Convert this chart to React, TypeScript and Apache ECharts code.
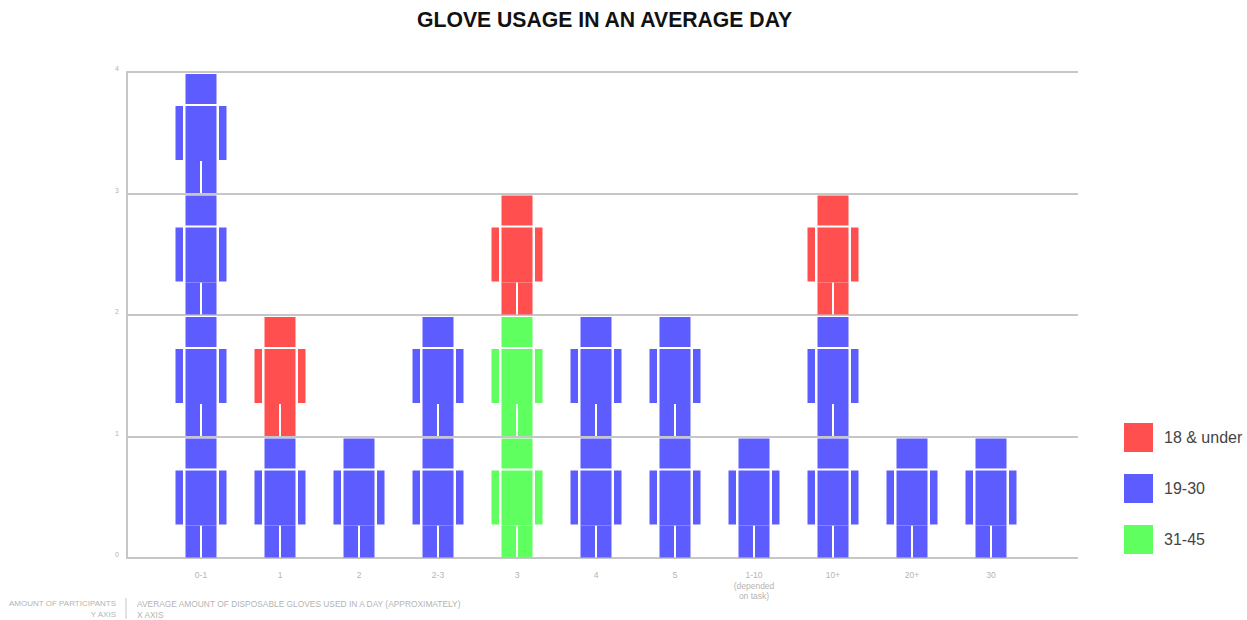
import React, { useEffect, useRef } from "react";
import * as echarts from "echarts";

const title = "GLOVE USAGE IN AN AVERAGE DAY";
const categories = ["0-1", "1", "2", "2-3", "3", "4", "5", "1-10\n(depended\non task)", "10+", "20+", "30"];
const age19to30 = [4, 1, 1, 2, 0, 2, 2, 1, 2, 1, 1];
const age31to45 = [0, 0, 0, 0, 2, 0, 0, 0, 0, 0, 0];
const age18under = [0, 1, 0, 0, 1, 0, 0, 0, 1, 0, 0];
const yTicks = [0, 1, 2, 3, 4];

const BLUE = "#5c5cff";
const GREEN = "#60ff60";
const RED = "#ff4f4f";

// One figure, as rectangles relative to its cell: [x from centre, y from cell top, w, h], in a 121.5px cell.
const FIGURE_PARTS = [
  [-15.5, 2, 31, 30],
  [-15.5, 34, 31, 55],
  [-15.5, 89, 14.5, 32],
  [1, 89, 14.5, 32],
  [-25.5, 34, 7.5, 54],
  [18, 34, 7.5, 54],
];

// Builds [category index, count, stacked base] rows for one age group.
function rows(values: number[], below: number[][]) {
  return values.map((v, i) => [i, v, below.reduce((sum, s) => sum + s[i], 0)]);
}

function renderFigures(_params: any, api: any) {
  const idx = api.value(0);
  const count = api.value(1);
  const base = api.value(2);
  const children: any[] = [];
  const fill = api.visual("color");
  for (let n = 0; n < count; n++) {
    const [cx, top] = api.coord([idx, base + n + 1]);
    const scale = api.size([0, 1])[1] / 121.5;
    for (const [dx, dy, w, h] of FIGURE_PARTS) {
      children.push({
        type: "rect",
        shape: { x: cx + dx * scale, y: top + dy * scale, width: w * scale, height: h * scale },
        style: { fill },
      });
    }
  }
  return { type: "group", children };
}

function figureSeries(name: string, color: string, data: number[][]) {
  return {
    name,
    type: "custom",
    xAxisIndex: 1,
    yAxisIndex: 1,
    clip: false,
    itemStyle: { color },
    encode: { x: 0, y: 2 },
    renderItem: renderFigures,
    data,
  };
}

export default function App() {
  const ref = useRef<HTMLDivElement>(null);

  useEffect(() => {
    document.body.style.margin = "0";
    const chart = echarts.init(ref.current!, null, { renderer: "svg" });
    const font = "Liberation Sans, Arial, sans-serif";
    const tinyColor = "#b4b4b4";
    chart.setOption({
      animation: false,
      backgroundColor: "#ffffff",
      textStyle: { fontFamily: font },
      title: {
        text: title,
        left: 417,
        top: 9,
        padding: 0,
        textStyle: { fontFamily: font, fontSize: 21.2, fontWeight: "bold", color: "#111111" },
      },
      legend: {
        orient: "vertical",
        left: 1124,
        top: 423,
        padding: 0,
        itemWidth: 29,
        itemHeight: 29,
        itemGap: 22,
        icon: "rect",
        data: ["18 & under", "19-30", "31-45"],
        selectedMode: false,
        textStyle: { fontFamily: font, fontSize: 16, color: "#444444", padding: [0, 0, 0, 6] },
      },
      grid: [
        { left: 127, top: 72, width: 951, height: 486 },
        { left: 161.5, top: 72, width: 869, height: 486 },
      ],
      xAxis: [
        { type: "value", gridIndex: 0, min: 0, max: 1, show: false },
        {
          type: "category",
          gridIndex: 1,
          data: categories,
          axisLine: { show: false },
          axisTick: { show: false },
          axisLabel: { fontSize: 8.5, lineHeight: 10.5, color: tinyColor, margin: 12, interval: 0 },
        },
      ],
      yAxis: [
        {
          type: "value",
          gridIndex: 0,
          min: yTicks[0],
          max: yTicks[yTicks.length - 1],
          interval: 1,
          axisLine: { show: true, lineStyle: { color: "#c6c6c6", width: 2 } },
          axisTick: { show: false },
          axisLabel: { fontSize: 7, color: tinyColor, margin: 8, verticalAlign: "bottom" },
          splitLine: { show: true, lineStyle: { color: "#c6c6c6", width: 2 } },
        },
        { type: "value", gridIndex: 1, min: yTicks[0], max: yTicks[yTicks.length - 1], interval: 1, show: false },
      ],
      graphic: [
        {
          type: "text",
          x: 116,
          y: 598,
          style: {
            text: "AMOUNT OF PARTICIPANTS\nY AXIS",
            align: "right",
            fontFamily: font,
            fontSize: 8,
            lineHeight: 11,
            fill: tinyColor,
          },
        },
        {
          type: "line",
          shape: { x1: 126, y1: 598, x2: 126, y2: 619 },
          style: { stroke: "#c6c6c6", lineWidth: 1 },
        },
        {
          type: "text",
          x: 137,
          y: 598,
          style: {
            text: "AVERAGE AMOUNT OF DISPOSABLE GLOVES USED IN A DAY (APPROXIMATELY)\nX AXIS",
            align: "left",
            fontFamily: font,
            fontSize: 8.4,
            lineHeight: 11,
            fill: tinyColor,
          },
        },
      ],
      series: [
        figureSeries("19-30", BLUE, rows(age19to30, [])),
        figureSeries("31-45", GREEN, rows(age31to45, [age19to30])),
        figureSeries("18 & under", RED, rows(age18under, [age19to30, age31to45])),
      ],
    });
    return () => chart.dispose();
  }, []);

  return <div ref={ref} style={{ position: "fixed", left: 0, top: 0, width: 1247, height: 620 }} />;
}
